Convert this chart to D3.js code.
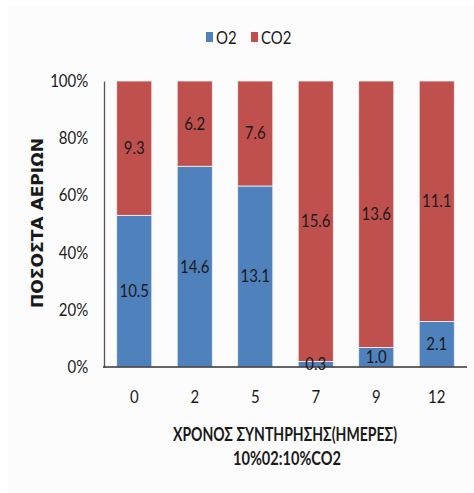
<!DOCTYPE html>
<html>
<head>
<meta charset="utf-8">
<script src="https://cdn.jsdelivr.net/npm/d3@7"></script>
<style>
  html, body { margin: 0; padding: 0; background: #fff; }
  svg text { font-family: Lato, "DejaVu Sans Condensed", sans-serif; fill: #1a1a1a; }
</style>
</head>
<body>
<svg id="chart" width="474" height="493"></svg>
<script>
// Storage time (days) and gas concentrations per sample
const days = ["0", "2", "5", "7", "9", "12"];
const o2 = [10.5, 14.6, 13.1, 0.3, 1.0, 2.1];
const co2 = [9.3, 6.2, 7.6, 15.6, 13.6, 11.1];
const seriesNames = ["O2", "CO2"];
const seriesColors = ["#4F81BD", "#C0504D"];
const yTicks = [0, 0.2, 0.4, 0.6, 0.8, 1.0];

const FONT = 'Lato, "DejaVu Sans Condensed", sans-serif';
const SQUEEZE = 0.88; // horizontal condensing of the label text

const svg = d3.select("#chart");

// faint chart-area background
svg.append("rect").attr("x", 8).attr("y", 5).attr("width", 466).attr("height", 488).attr("fill", "#fcfcfc");

const margin = { left: 104, right: 7, top: 81, bottom: 126 };
const W = 474, H = 493;

const rows = days.map((d, i) => ({ day: d, O2: o2[i], CO2: co2[i] }));
const stack = d3.stack().keys(seriesNames).offset(d3.stackOffsetExpand);
const layers = stack(rows);

const x = d3.scaleBand().domain(days).range([margin.left, W - margin.right]).paddingInner(0.42).paddingOuter(0.21);
const y = d3.scaleLinear().domain([0, 1]).range([H - margin.bottom, margin.top]);

// bars
const g = svg.append("g");
layers.forEach((layer, si) => {
  g.selectAll(null).data(layer).enter().append("rect")
    .attr("x", d => x(d.data.day))
    .attr("width", x.bandwidth())
    .attr("y", d => y(d[1]))
    .attr("height", d => y(d[0]) - y(d[1]))
    .attr("fill", seriesColors[si])
    .attr("stroke", "#f3f3f3")
    .attr("stroke-width", 0.8);
});

// y axis
const yAxis = d3.axisLeft(y).tickValues(yTicks).tickFormat(d3.format(".0%")).tickSize(0).tickPadding(18);
const ya = svg.append("g").attr("transform", `translate(${margin.left},0)`).call(yAxis);
ya.select(".domain").attr("stroke", "#555").attr("stroke-width", 1.3);
ya.selectAll("text").attr("font-size", 17).attr("fill", "#1a1a1a")
  .attr("transform", `scale(${SQUEEZE},1)`)
  .style("font-family", FONT);

// x axis
const xAxis = d3.axisBottom(x).tickSize(0).tickPadding(24);
const xa = svg.append("g").attr("transform", `translate(0,${H - margin.bottom})`).call(xAxis);
xa.select(".domain").attr("stroke", "#333").attr("stroke-width", 1.6)
  .attr("d", `M${margin.left - 1},0H${W - margin.right}`);
xa.selectAll("text").attr("font-size", 17).attr("fill", "#1a1a1a")
  .attr("transform", `scale(${SQUEEZE},1)`)
  .style("font-family", FONT);

// value labels
const labelG = svg.append("g");
layers.forEach((layer, si) => {
  const vals = si === 0 ? o2 : co2;
  labelG.selectAll(null).data(layer).enter().append("text")
    .attr("transform", d => `translate(${x(d.data.day) + x.bandwidth() / 2},${(y(d[0]) + y(d[1])) / 2}) scale(${SQUEEZE},1)`)
    .attr("dy", "0.35em")
    .attr("text-anchor", "middle")
    .attr("font-size", 17)
    .text((d, i) => vals[i].toFixed(1));
});

// y axis title
svg.append("text")
  .attr("transform", `translate(43,223) rotate(-90)`)
  .attr("text-anchor", "middle")
  .attr("font-size", 15.5)
  .attr("font-weight", "bold")
  .attr("textLength", 170)
  .attr("lengthAdjust", "spacingAndGlyphs")
  .style("font-family", '"DejaVu Sans", sans-serif')
  .text("ΠΟΣΟΣΤΑ ΑΕΡΙΩΝ");

// x axis title (two lines)
svg.append("text")
  .attr("x", 285).attr("y", 441)
  .attr("text-anchor", "middle")
  .attr("font-size", 18)
  .attr("font-weight", "bold")
  .attr("textLength", 224)
  .attr("lengthAdjust", "spacingAndGlyphs")
  .text("ΧΡΟΝΟΣ ΣΥΝΤΗΡΗΣΗΣ(ΗΜΕΡΕΣ)");
svg.append("text")
  .attr("x", 287).attr("y", 465)
  .attr("text-anchor", "middle")
  .attr("font-size", 18)
  .attr("font-weight", "bold")
  .attr("textLength", 108)
  .attr("lengthAdjust", "spacingAndGlyphs")
  .text("10%02:10%CO2");

// legend
const legend = svg.append("g");
const legendItems = [{ name: "O2", x: 206 }, { name: "CO2", x: 251 }];
legendItems.forEach((it, i) => {
  legend.append("rect").attr("x", it.x).attr("y", 32).attr("width", 7).attr("height", 10).attr("fill", seriesColors[i]);
  legend.append("text")
    .attr("transform", `translate(${it.x + 10},44) scale(${SQUEEZE},1)`)
    .attr("font-size", 17).text(it.name);
});
</script>
</body>
</html>
